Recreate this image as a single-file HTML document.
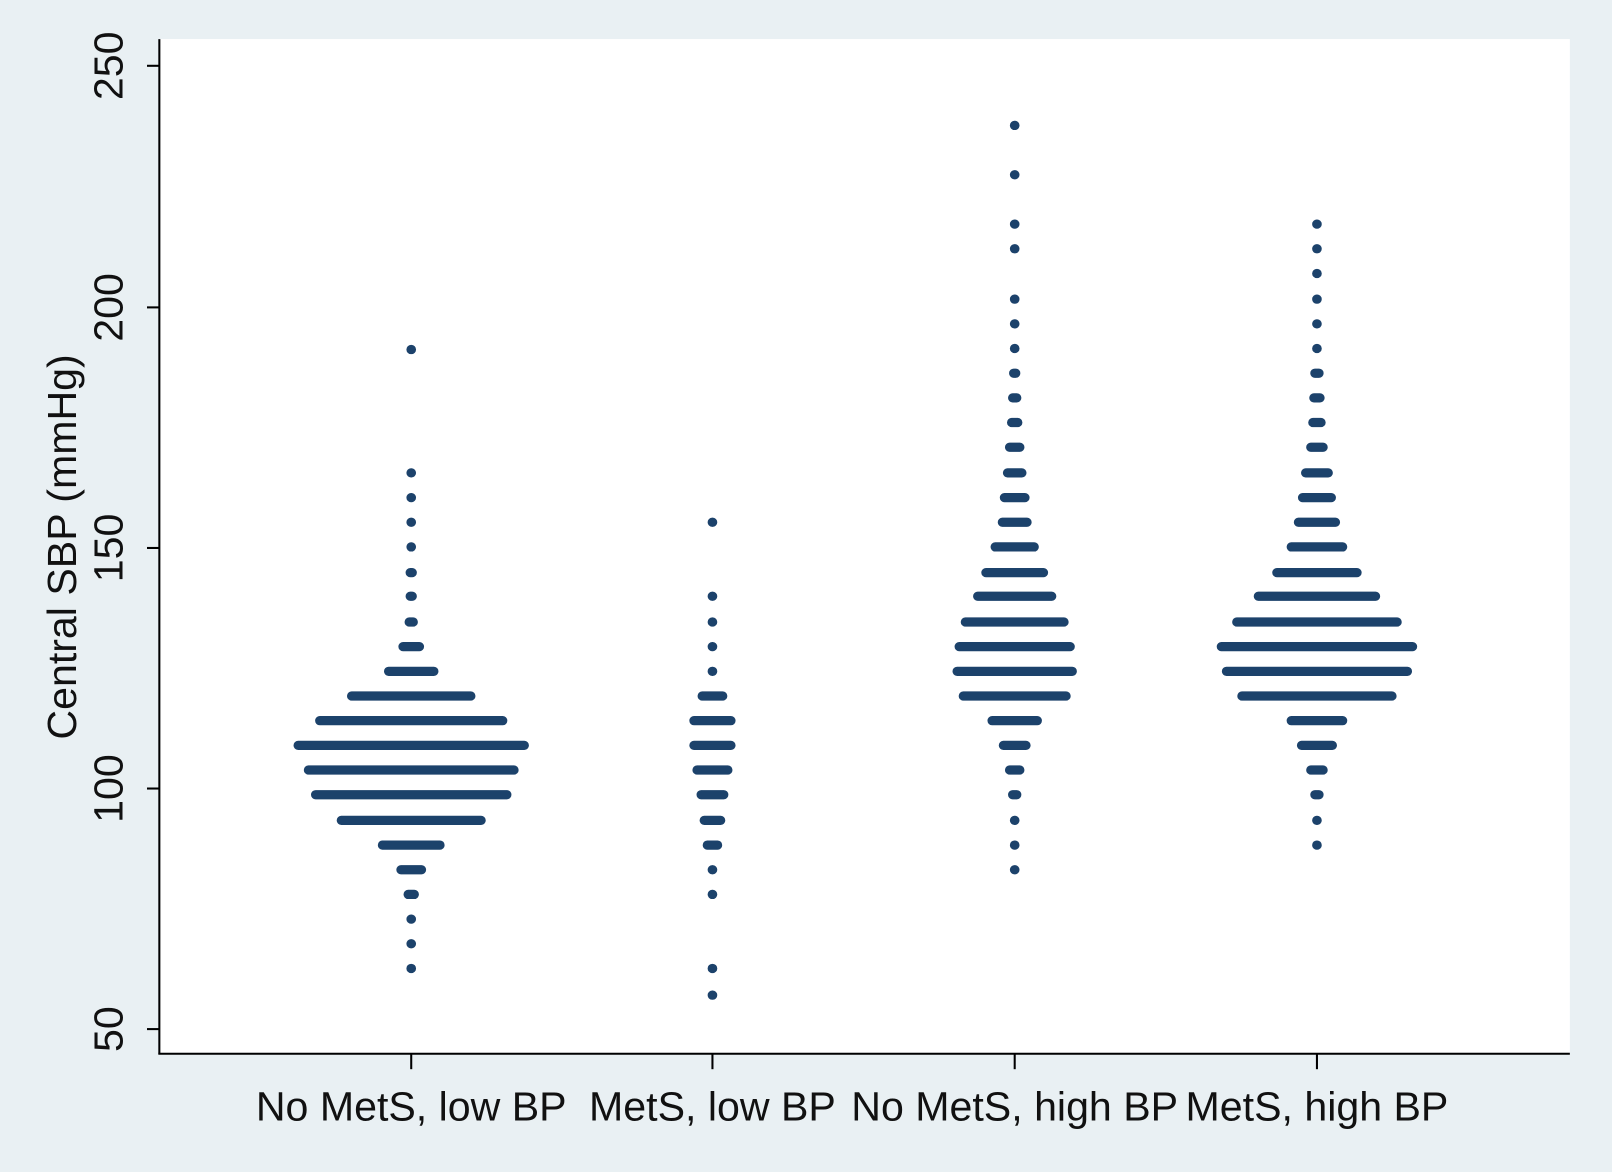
<!DOCTYPE html>
<html><head><style>html,body{margin:0;padding:0;background:#e9f0f3;}svg{display:block}</style></head>
<body>
<svg width="1612" height="1172" viewBox="0 0 1568 1140" preserveAspectRatio="none" xmlns="http://www.w3.org/2000/svg">
<rect x="0" y="0" width="1568" height="1140" fill="#e9f0f3"/>
<rect x="155" y="38" width="1372" height="986" fill="#ffffff"/>
<g stroke="#000" stroke-width="2" fill="none">
<line x1="155" y1="38" x2="155" y2="1025"/>
<line x1="154" y1="1025" x2="1527" y2="1025"/>
<line x1="143" y1="64" x2="155" y2="64"/><line x1="143" y1="299" x2="155" y2="299"/>
<line x1="143" y1="533" x2="155" y2="533"/><line x1="143" y1="767" x2="155" y2="767"/>
<line x1="143" y1="1001" x2="155" y2="1001"/>
<line x1="400" y1="1025" x2="400" y2="1040"/><line x1="693" y1="1025" x2="693" y2="1040"/>
<line x1="987" y1="1025" x2="987" y2="1040"/><line x1="1281" y1="1025" x2="1281" y2="1040"/>
</g>
<g font-family="Liberation Sans, sans-serif" font-size="40" fill="#111" text-anchor="middle">
<text transform="translate(119,64) rotate(-90)">250</text>
<text transform="translate(119,299) rotate(-90)">200</text>
<text transform="translate(119,533) rotate(-90)">150</text>
<text transform="translate(119,767) rotate(-90)">100</text>
<text transform="translate(119,1001) rotate(-90)">50</text>
<text transform="translate(74,532) rotate(-90)">Central SBP (mmHg)</text>
<text x="400" y="1090">No MetS, low BP</text>
<text x="693" y="1090">MetS, low BP</text>
<text x="987" y="1090">No MetS, high BP</text>
<text x="1281" y="1090">MetS, high BP</text>
</g>
<g stroke="#1c426b" stroke-width="9" stroke-linecap="round" fill="none">
<path d="M399.8 340h0.4M399.8 460h0.4M399.8 484h0.4M399.8 508h0.4M399.8 532h0.4M399 557h2M399 580h2M398 605h4M392 629h16M378 653h44M342 677h116M311 701h178M290 725h220M300 749h200M307 773h186M332 798h136M372 822h56M390 846h20M397 870h6M399.8 894h0.4M399.8 918h0.4M399.8 942h0.4"/>
<path d="M692.8 508h0.4M692.8 580h0.4M692.8 605h0.4M692.8 629h0.4M692.8 653h0.4M683 677h20M675 701h36M675 725h36M678 749h30M682 773h22M685 798h16M688 822h10M692.8 846h0.4M692.8 870h0.4M692.8 942h0.4M692.8 968h0.4"/>
<path d="M986.8 122h0.4M986.8 170h0.4M986.8 218h0.4M986.8 242h0.4M986.8 291h0.4M986.8 315h0.4M986.8 339h0.4M986 363h2M985 387h4M984 411h6M982 435h10M980 460h14M977 484h20M975 508h24M968 532h38M959 557h56M951 580h72M939 605h96M933 629h108M931 653h112M937 677h100M965 701h44M976 725h22M982 749h10M985 773h4M986.8 798h0.4M986.8 822h0.4M986.8 846h0.4"/>
<path d="M1280.8 218h0.4M1280.8 242h0.4M1280.8 266h0.4M1280.8 291h0.4M1280.8 315h0.4M1280.8 339h0.4M1279 363h4M1278 387h6M1277 411h8M1275 435h12M1270 460h22M1267 484h28M1263 508h36M1256 532h50M1242 557h78M1224 580h114M1203 605h156M1188 629h186M1193 653h176M1208 677h146M1256 701h50M1266 725h30M1275 749h12M1279 773h4M1280.8 798h0.4M1280.8 822h0.4"/>
</g>
</svg>
</body></html>
